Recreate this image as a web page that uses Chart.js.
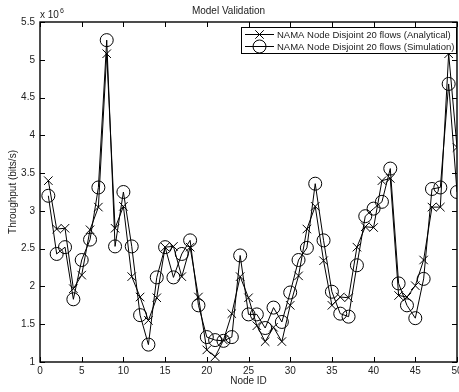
<!DOCTYPE html>
<html>
<head>
<meta charset="utf-8">
<script src="https://cdn.jsdelivr.net/npm/chart.js@4/dist/chart.umd.min.js"></script>
<style>
html, body { margin: 0; padding: 0; background: #fff; overflow: hidden; }
#wrap { position: relative; width: 470px; height: 392px; }
</style>
</head>
<body>
<div id="wrap"><canvas id="chart"></canvas></div>
<script>
const nodeIds = [1,2,3,4,5,6,7,8,9,10,11,12,13,14,15,16,17,18,19,20,21,22,23,24,25,
                 26,27,28,29,30,31,32,33,34,35,36,37,38,39,40,41,42,43,44,45,46,47,48,49,50];
// throughput, in units of 10^6 bits/s
const analytical = [3.40,2.76,2.77,1.97,2.15,2.75,3.05,5.08,2.77,3.06,2.13,1.86,1.55,1.85,2.52,2.53,2.13,2.52,1.86,1.16,
                    1.07,1.29,1.64,2.13,1.85,1.48,1.27,1.46,1.27,1.75,2.14,2.76,3.06,2.34,1.75,1.86,1.85,2.52,2.79,2.78,
                    3.40,3.43,1.88,1.86,2.01,2.35,3.05,3.05,5.08,3.84];
const simulation = [3.20,2.43,2.52,1.83,2.35,2.62,3.31,5.26,2.53,3.25,2.53,1.62,1.23,2.12,2.52,2.12,2.43,2.61,1.75,1.33,
                    1.29,1.28,1.33,2.41,1.63,1.63,1.45,1.72,1.53,1.92,2.35,2.51,3.36,2.61,1.93,1.64,1.60,2.28,2.93,3.03,
                    3.12,3.56,2.04,1.75,1.58,2.10,3.29,3.31,4.68,3.25];
const xTicks = [0,5,10,15,20,25,30,35,40,45,50];
const yTicks = [1,1.5,2,2.5,3,3.5,4,4.5,5,5.5];
const yExponent = '6';
const seriesNames = ['NAMA Node Disjoint 20 flows (Analytical)', 'NAMA Node Disjoint 20 flows (Simulation)'];

const FONT = "'Liberation Sans', Arial, Helvetica, sans-serif";
const TXT = '#222';

// box, inward ticks, legend and exponent label in matlab style
const matlabAxes = {
    id: 'matlabAxes',
    beforeDatasetsDraw(chart) {
        const {ctx, chartArea: a, scales} = chart;
        const tl = 5;
        ctx.save();
        ctx.strokeStyle = '#000';
        ctx.lineWidth = 1;
        ctx.beginPath();
        xTicks.forEach(v => {
            const px = Math.round(scales.x.getPixelForValue(v)) + 0.5;
            ctx.moveTo(px, a.bottom); ctx.lineTo(px, a.bottom - tl);
            ctx.moveTo(px, a.top); ctx.lineTo(px, a.top + tl);
        });
        yTicks.forEach(v => {
            const py = Math.round(scales.y.getPixelForValue(v)) + 0.5;
            ctx.moveTo(a.left, py); ctx.lineTo(a.left + tl, py);
            ctx.moveTo(a.right, py); ctx.lineTo(a.right - tl, py);
        });
        ctx.stroke();
        ctx.lineWidth = 1.4;
        ctx.strokeRect(Math.round(a.left), Math.round(a.top), Math.round(a.right - a.left), Math.round(a.bottom - a.top));
        ctx.restore();
    },
    afterDraw(chart) {
        const {ctx, chartArea: a} = chart;
        ctx.save();
        // exponent label
        ctx.fillStyle = TXT;
        ctx.textBaseline = 'middle';
        ctx.font = '10px ' + FONT;
        ctx.fillText('x 10', a.left, a.top - 7);
        const w = ctx.measureText('x 10').width;
        ctx.font = '7px ' + FONT;
        ctx.fillText(yExponent, a.left + w + 1, a.top - 11);

        // legend
        const lx = 241, ly = 27, lw = 215, lh = 26;
        ctx.fillStyle = '#fff';
        ctx.fillRect(lx, ly, lw, lh);
        ctx.strokeStyle = '#000';
        ctx.lineWidth = 1;
        ctx.strokeRect(lx + 0.5, ly + 0.5, lw, lh);
        chart.data.datasets.forEach((ds, i) => {
            const yy = ly + 7.5 + i * 12;
            ctx.strokeStyle = '#000';
            ctx.lineWidth = 1;
            ctx.beginPath();
            ctx.moveTo(lx + 4, yy); ctx.lineTo(lx + 33, yy);
            ctx.stroke();
            ctx.fillStyle = 'rgba(0,0,0,0)';
            Chart.helpers.drawPoint(ctx, {
                pointStyle: ds.pointStyle, radius: ds.pointRadius, rotation: 0, borderWidth: 1
            }, lx + 18.5, yy);
            ctx.fillStyle = TXT;
            ctx.font = '9.5px ' + FONT;
            ctx.textBaseline = 'middle';
            ctx.fillText(ds.label, lx + 36, yy + 0.5);
        });
        ctx.restore();
    }
};

new Chart(document.getElementById('chart'), {
    type: 'line',
    data: {
        labels: nodeIds,
        datasets: [
            {
                label: seriesNames[0],
                data: nodeIds.map((n, i) => ({x: n, y: analytical[i]})),
                borderColor: '#000',
                borderWidth: 1,
                pointStyle: 'crossRot',
                pointRadius: 6,
                pointBorderColor: '#000',
                pointBorderWidth: 1,
                pointBackgroundColor: 'rgba(0,0,0,0)',
                tension: 0
            },
            {
                label: seriesNames[1],
                data: nodeIds.map((n, i) => ({x: n, y: simulation[i]})),
                borderColor: '#000',
                borderWidth: 1,
                pointStyle: 'circle',
                pointRadius: 6.5,
                pointBorderColor: '#000',
                pointBorderWidth: 1,
                pointBackgroundColor: 'rgba(0,0,0,0)',
                tension: 0
            }
        ]
    },
    options: {
        responsive: true,
        maintainAspectRatio: false,
        animation: false,
        layout: { padding: { left: 0, right: 13, top: 0, bottom: 0 } },
        plugins: {
            legend: { display: false },
            tooltip: { enabled: false },
            title: {
                display: true,
                text: 'Model Validation',
                color: TXT,
                font: { family: FONT, size: 10, weight: 'normal', lineHeight: 1.2 },
                padding: { top: 5, bottom: 5 }
            }
        },
        scales: {
            x: {
                type: 'linear',
                min: 0,
                max: 50,
                afterBuildTicks: s => { s.ticks = xTicks.map(v => ({value: v})); },
                afterFit: s => { s.height = 30; s.paddingLeft = 0; s.paddingRight = 0; },
                grid: { display: false, drawTicks: false },
                border: { display: false },
                ticks: { padding: 3, maxRotation: 0, autoSkip: false, color: TXT, font: { family: FONT, size: 10 },
                         callback: v => String(v) },
                title: { display: true, text: 'Node ID', color: TXT, font: { family: FONT, size: 10 }, padding: { top: 0, bottom: 5 } }
            },
            y: {
                type: 'linear',
                min: 1,
                max: 5.5,
                afterBuildTicks: s => { s.ticks = yTicks.map(v => ({value: v})); },
                afterFit: s => { s.width = 40; s.paddingTop = 0; s.paddingBottom = 0; },
                grid: { display: false, drawTicks: false },
                border: { display: false },
                ticks: { padding: 5, autoSkip: false, color: TXT, font: { family: FONT, size: 10 },
                         callback: v => String(v) },
                title: { display: true, text: 'Throughput (bits/s)', color: TXT, font: { family: FONT, size: 10 }, padding: { top: 7, bottom: 0 } }
            }
        }
    },
    plugins: [matlabAxes]
});
</script>
</body>
</html>
